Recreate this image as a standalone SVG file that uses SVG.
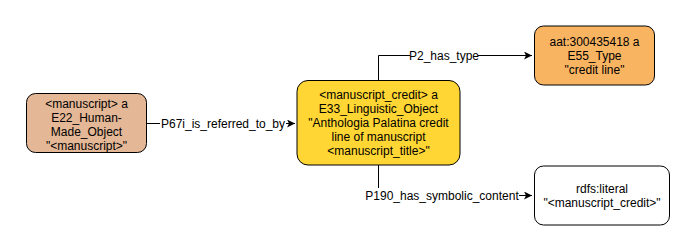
<svg xmlns="http://www.w3.org/2000/svg" width="695" height="251" viewBox="0 0 695 251">
<style>
.node{stroke:#000;stroke-width:1}
text{font-family:"Liberation Sans",Arial,sans-serif;font-size:12px;fill:#000;text-anchor:middle}
.edge{fill:none;stroke:#000;stroke-width:1}
.lbl{fill:#fff}
</style>
<defs>
<marker id="arr" markerWidth="10" markerHeight="10" refX="8" refY="4" orient="auto" markerUnits="userSpaceOnUse">
<path d="M0,0 L8,4 L0,8 L2,4 Z" fill="#000"/>
</marker>
</defs>
<g id="connectors">
<path class="edge" d="M146,123.5 H295" marker-end="url(#arr)"/>
<rect class="lbl" x="160" y="116" width="126" height="14"/>
<text x="223" y="127.5">P67i_is_referred_to_by</text>
<path class="edge" d="M378.5,80 V55.5 H532" marker-end="url(#arr)"/>
<rect class="lbl" x="410" y="48" width="68" height="14"/>
<text x="444" y="59.5">P2_has_type</text>
<path class="edge" d="M378.5,165 V195.5 H532" marker-end="url(#arr)"/>
<rect class="lbl" x="365" y="188" width="154" height="14"/>
<text x="442" y="199.5">P190_has_symbolic_content</text>
</g>
<g id="manuscript">
<rect class="node" x="26.5" y="93.5" width="120" height="59" rx="9" fill="#E4B796"/>
<text x="86.5" y="107.5">&lt;manuscript&gt; a</text>
<text x="86.5" y="121.5">E22_Human-</text>
<text x="86.5" y="135.5">Made_Object</text>
<text x="86.5" y="149.5">"&lt;manuscript&gt;"</text>
</g>
<g id="credit">
<rect class="node" x="297" y="80.5" width="163" height="84.5" rx="11" fill="#FFD633"/>
<text x="378.5" y="99">&lt;manuscript_credit&gt; a</text>
<text x="378.5" y="113">E33_Linguistic_Object</text>
<text x="378.5" y="127">"Anthologia Palatina credit</text>
<text x="378.5" y="141">line of manuscript</text>
<text x="378.5" y="155">&lt;manuscript_title&gt;"</text>
</g>
<g id="type">
<rect class="node" x="534.5" y="26" width="120" height="59" rx="9" fill="#F9B462"/>
<text x="594.5" y="46">aat:300435418 a</text>
<text x="594.5" y="60">E55_Type</text>
<text x="594.5" y="74">"credit line"</text>
</g>
<g id="literal">
<rect class="node" x="534.5" y="166" width="135" height="59" rx="9" fill="#FFFFFF"/>
<text x="602" y="193">rdfs:literal</text>
<text x="602" y="207">"&lt;manuscript_credit&gt;"</text>
</g>
</svg>
